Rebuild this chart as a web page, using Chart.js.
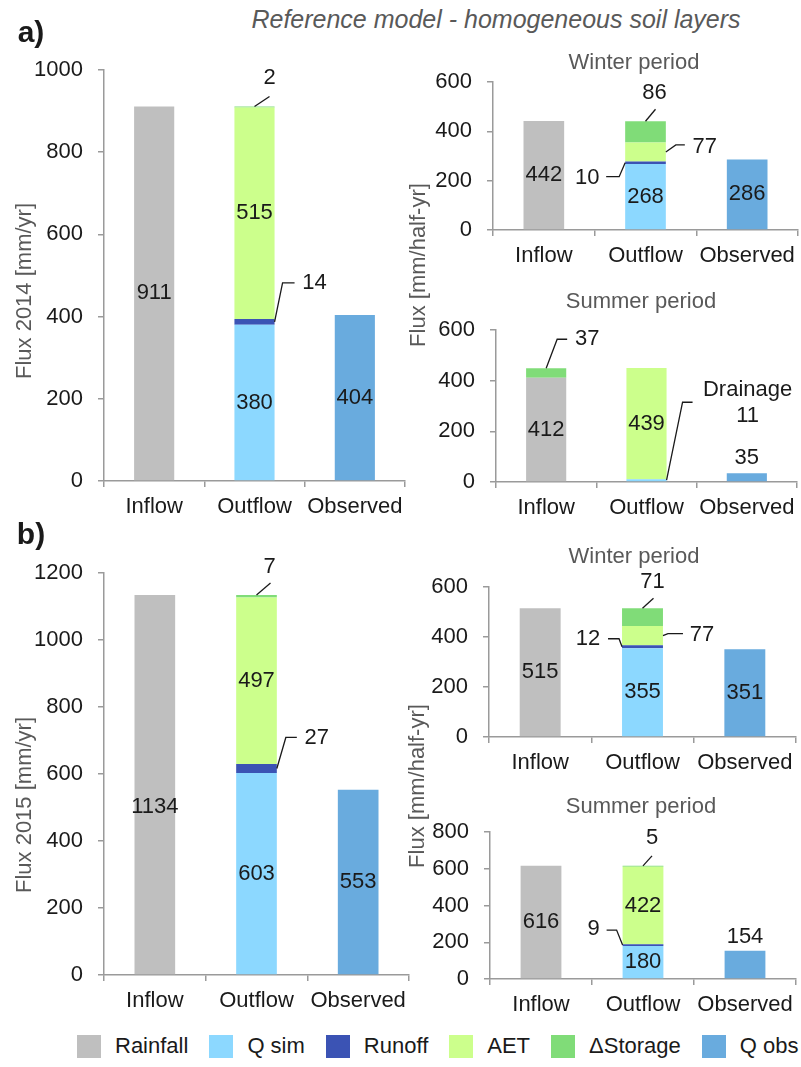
<!DOCTYPE html>
<html><head><meta charset="utf-8">
<script src="https://cdn.jsdelivr.net/npm/chart.js@4"></script>
<style>
html,body{margin:0;padding:0;background:#fff;}
#wrap{position:relative;width:801px;height:1067px;overflow:hidden;font-family:'Liberation Sans',Arial,sans-serif;}
canvas{position:absolute;}
.t{position:absolute;white-space:nowrap;line-height:1;transform:translate(-50%,-50%);}
.rot{transform:translate(-50%,-50%) rotate(-90deg);}
#legend{position:absolute;left:77px;top:1046px;transform:translateY(-50%);display:flex;align-items:center;font-size:22px;color:#1a1a1a;white-space:nowrap;width:760px;}
#legend .it{display:flex;align-items:center;margin-right:21px;flex-shrink:0;}
#legend .sw{width:24px;height:23px;margin-right:14px;flex-shrink:0;}
</style></head><body><div id="wrap"></div>
<script>
// ---------- data ----------
const categories = ['Inflow', 'Outflow', 'Observed'];
const seriesNames = ['Rainfall', 'Q sim', 'Runoff', 'AET', '\u0394Storage', 'Q obs'];

// a) 2014 annual
const y2014Rainfall = [911, null, null];
const y2014Qsim     = [null, 380, null];
const y2014Runoff   = [null, 14, null];
const y2014Aet      = [null, 515, null];
const y2014Storage  = [null, 2, null];
const y2014Qobs     = [null, null, 404];
// a) 2014 winter
const w2014Rainfall = [442, null, null];
const w2014Qsim     = [null, 268, null];
const w2014Runoff   = [null, 10, null];
const w2014Aet      = [null, 77, null];
const w2014Storage  = [null, 86, null];
const w2014Qobs     = [null, null, 286];
// a) 2014 summer
const s2014Rainfall = [412, null, null];
const s2014Qsim     = [null, 11, null];
const s2014Runoff   = [null, null, null];
const s2014Aet      = [null, 439, null];
const s2014Storage  = [37, null, null];
const s2014Qobs     = [null, null, 35];
// b) 2015 annual
const y2015Rainfall = [1134, null, null];
const y2015Qsim     = [null, 603, null];
const y2015Runoff   = [null, 27, null];
const y2015Aet      = [null, 497, null];
const y2015Storage  = [null, 7, null];
const y2015Qobs     = [null, null, 553];
// b) 2015 winter
const w2015Rainfall = [515, null, null];
const w2015Qsim     = [null, 355, null];
const w2015Runoff   = [null, 12, null];
const w2015Aet      = [null, 77, null];
const w2015Storage  = [null, 71, null];
const w2015Qobs     = [null, null, 351];
// b) 2015 summer
const s2015Rainfall = [616, null, null];
const s2015Qsim     = [null, 180, null];
const s2015Runoff   = [null, 9, null];
const s2015Aet      = [null, 422, null];
const s2015Storage  = [null, 5, null];
const s2015Qobs     = [null, null, 154];

// axis maxima / steps
const yMax2014 = 1000, yMax2015 = 1200, yMaxW2014 = 600, yMaxS2014 = 600, yMaxW2015 = 600, yMaxS2015 = 800;
const yStep = 200;

// ---------- style ----------
const seriesColors = ['#bfbfbf', '#8cd8ff', '#3b53b4', '#ccff8c', '#80dc78', '#69abde'];
const AX = '#9a9a9a';
const TXT = '#1a1a1a';
const FONT = "'Liberation Sans', Arial, sans-serif";
Chart.defaults.font.family = FONT;
Chart.defaults.font.size = 22;

const wrap = document.getElementById('wrap');

const labelPlugin = {
  id: 'segLabels',
  afterDatasetsDraw(chart, args, opts) {
    const ctx = chart.ctx;
    ctx.save();
    ctx.font = '22px ' + FONT;
    ctx.fillStyle = TXT; ctx.strokeStyle = TXT; ctx.lineWidth = 1.3;
    ctx.textAlign = 'center'; ctx.textBaseline = 'middle';
    for (const L of (opts.items || [])) {
      const el = chart.getDatasetMeta(L.s).data[L.c];
      const v = chart.data.datasets[L.s].data[L.c];
      if (!el || v == null) continue;
      const top = Math.min(el.y, el.base), bot = Math.max(el.y, el.base);
      const half = el.width / 2;
      const lines = (L.prefix ? [L.prefix] : []).concat([String(v)]);
      let tx, ty;
      if (L.mode === 'center') { tx = el.x; ty = (top + bot) / 2 + (L.dy || 0); }
      else if (L.mode === 'above') { tx = el.x; ty = top + L.dy; }
      else {
        let ax, ay;
        if (L.anchor === 'top') { ax = el.x; ay = top; }
        else if (L.anchor === 'right') { ax = el.x + half; ay = (top + bot) / 2; }
        else { ax = el.x - half; ay = (top + bot) / 2; }
        ctx.beginPath(); ctx.moveTo(ax, ay);
        for (const p of L.path) ctx.lineTo(ax + p[0], ay + p[1]);
        ctx.stroke();
        tx = ax + L.text[0]; ty = ay + L.text[1];
      }
      const lh = 26;
      lines.forEach((s, i) => ctx.fillText(s, tx, ty + (i - (lines.length - 1) / 2) * lh));
    }
    ctx.restore();
  }
};

function makePanel(p) {
  const PT = 30, PR = 10, XH = 40;
  const YW = p.yw;
  const c = document.createElement('canvas');
  const W = YW + (p.x1 - p.x0) + PR;
  const H = PT + (p.y0 - p.yTop) + XH;
  c.width = W; c.height = H;
  c.style.left = (p.x0 - YW) + 'px';
  c.style.top = (p.yTop - PT) + 'px';
  c.style.width = W + 'px'; c.style.height = H + 'px';
  wrap.appendChild(c);
  const datasets = p.series.map((d, i) => ({
    label: seriesNames[i], data: d, backgroundColor: seriesColors[i],
    borderWidth: 0, barPercentage: 0.4, categoryPercentage: 1.0
  }));
  new Chart(c, {
    type: 'bar',
    data: { labels: categories, datasets },
    plugins: [labelPlugin],
    options: {
      responsive: false, animation: false, devicePixelRatio: 1,
      layout: { padding: { top: PT, right: PR, left: 0, bottom: 0 } },
      plugins: { legend: { display: false }, tooltip: { enabled: false }, title: { display: false },
        segLabels: { items: p.labels } },
      scales: {
        x: {
          stacked: true,
          grid: { display: true, drawOnChartArea: false, drawTicks: true, tickLength: 6, color: AX, lineWidth: 1.5, offset: true },
          border: { display: true, color: AX, width: 1.5 },
          ticks: { color: TXT, font: { size: 22 }, padding: 7, maxRotation: 0, autoSkip: false },
          afterFit: s => { s.height = XH; }
        },
        y: {
          stacked: true, min: 0, max: p.max,
          grid: { display: true, drawOnChartArea: false, drawTicks: true, tickLength: 6, color: AX, lineWidth: 1.5 },
          border: { display: true, color: AX, width: 1.5 },
          ticks: { stepSize: yStep, color: TXT, font: { size: 22 }, padding: 15, callback: v => String(v) },
          afterFit: s => { s.width = YW; }
        }
      }
    }
  });
}

// panels
makePanel({ x0: 104, x1: 405, yTop: 70, y0: 481, yw: 104, max: yMax2014,
  series: [y2014Rainfall, y2014Qsim, y2014Runoff, y2014Aet, y2014Storage, y2014Qobs],
  labels: [
    { s: 0, c: 0, mode: 'center' }, { s: 1, c: 1, mode: 'center' }, { s: 3, c: 1, mode: 'center' }, { s: 5, c: 2, mode: 'center' },
    { s: 4, c: 1, mode: 'callout', anchor: 'top', path: [[15, -10]], text: [15, -29] },
    { s: 2, c: 1, mode: 'callout', anchor: 'right', path: [[8, -39], [20, -39]], text: [40, -39] }
  ] });

makePanel({ x0: 104, x1: 409, yTop: 573, y0: 975, yw: 104, max: yMax2015,
  series: [y2015Rainfall, y2015Qsim, y2015Runoff, y2015Aet, y2015Storage, y2015Qobs],
  labels: [
    { s: 0, c: 0, mode: 'center', dy: 22 }, { s: 1, c: 1, mode: 'center' }, { s: 3, c: 1, mode: 'center' }, { s: 5, c: 2, mode: 'center' },
    { s: 4, c: 1, mode: 'callout', anchor: 'top', path: [[14, -12]], text: [13, -28] },
    { s: 2, c: 1, mode: 'callout', anchor: 'right', path: [[9, -31], [20, -31]], text: [40, -31] }
  ] });

makePanel({ x0: 493, x1: 798, yTop: 82, y0: 230, yw: 80, max: yMaxW2014,
  series: [w2014Rainfall, w2014Qsim, w2014Runoff, w2014Aet, w2014Storage, w2014Qobs],
  labels: [
    { s: 0, c: 0, mode: 'center' }, { s: 1, c: 1, mode: 'center' }, { s: 5, c: 2, mode: 'center' },
    { s: 4, c: 1, mode: 'callout', anchor: 'top', path: [[10, -12]], text: [9, -28] },
    { s: 3, c: 1, mode: 'callout', anchor: 'right', path: [[10, -7], [19, -7]], text: [39, -5] },
    { s: 2, c: 1, mode: 'callout', anchor: 'left', path: [[-6, 14], [-19, 14]], text: [-38, 15] }
  ] });

makePanel({ x0: 496, x1: 797, yTop: 330, y0: 482, yw: 80, max: yMaxS2014,
  series: [s2014Rainfall, s2014Qsim, s2014Runoff, s2014Aet, s2014Storage, s2014Qobs],
  labels: [
    { s: 0, c: 0, mode: 'center' }, { s: 3, c: 1, mode: 'center' },
    { s: 4, c: 0, mode: 'callout', anchor: 'top', path: [[11, -29], [21, -29]], text: [41, -29] },
    { s: 1, c: 1, mode: 'callout', anchor: 'right', path: [[16, -78], [26, -78]], text: [81, -77], prefix: 'Drainage' },
    { s: 5, c: 2, mode: 'above', dy: -15 }
  ] });

makePanel({ x0: 489, x1: 796, yTop: 587, y0: 737, yw: 80, max: yMaxW2015,
  series: [w2015Rainfall, w2015Qsim, w2015Runoff, w2015Aet, w2015Storage, w2015Qobs],
  labels: [
    { s: 0, c: 0, mode: 'center' }, { s: 1, c: 1, mode: 'center' }, { s: 5, c: 2, mode: 'center' },
    { s: 4, c: 1, mode: 'callout', anchor: 'top', path: [[11, -10]], text: [10, -26] },
    { s: 3, c: 1, mode: 'callout', anchor: 'right', path: [[5, -2], [20, -2]], text: [39, -1] },
    { s: 2, c: 1, mode: 'callout', anchor: 'left', path: [[-3, -8], [-14, -8]], text: [-34, -8] }
  ] });

makePanel({ x0: 490, x1: 796, yTop: 832, y0: 979, yw: 80, max: yMaxS2015,
  series: [s2015Rainfall, s2015Qsim, s2015Runoff, s2015Aet, s2015Storage, s2015Qobs],
  labels: [
    { s: 0, c: 0, mode: 'center' }, { s: 3, c: 1, mode: 'center' }, { s: 1, c: 1, mode: 'center' },
    { s: 4, c: 1, mode: 'callout', anchor: 'top', path: [[9, -10]], text: [9, -28] },
    { s: 2, c: 1, mode: 'callout', anchor: 'left', path: [[-6, -15], [-16, -15]], text: [-29, -16] },
    { s: 5, c: 2, mode: 'above', dy: -14 }
  ] });

// ---------- texts ----------
function txt(s, x, y, css, cls) {
  const d = document.createElement('div');
  d.className = 't' + (cls ? ' ' + cls : '');
  d.textContent = s;
  d.style.left = x + 'px'; d.style.top = y + 'px';
  d.style.cssText += css;
  wrap.appendChild(d);
}
txt('Reference model - homogeneous soil layers', 496, 19, 'font-size:25px;font-style:italic;color:#595959;');
txt('a)', 31, 32, 'font-size:30px;font-weight:bold;color:#1a1a1a;');
txt('b)', 31, 534, 'font-size:30px;font-weight:bold;color:#1a1a1a;');
txt('Flux 2014 [mm/yr]', 24, 291, 'font-size:22px;color:#595959;', 'rot');
txt('Flux 2015 [mm/yr]', 24, 805, 'font-size:22px;color:#595959;', 'rot');
txt('Flux [mm/half-yr]', 418, 265, 'font-size:22px;color:#595959;', 'rot');
txt('Flux [mm/half-yr]', 417, 786, 'font-size:22px;color:#595959;', 'rot');
txt('Winter period', 634, 62, 'font-size:22px;color:#595959;');
txt('Summer period', 641, 301, 'font-size:22px;color:#595959;');
txt('Winter period', 634, 556, 'font-size:22px;color:#595959;');
txt('Summer period', 641, 806, 'font-size:22px;color:#595959;');

// legend
const lg = document.createElement('div'); lg.id = 'legend';
seriesNames.forEach((n, i) => {
  const it = document.createElement('div'); it.className = 'it';
  const sw = document.createElement('div'); sw.className = 'sw'; sw.style.background = seriesColors[i];
  const sp = document.createElement('span'); sp.textContent = n;
  it.appendChild(sw); it.appendChild(sp); lg.appendChild(it);
});
wrap.appendChild(lg);
</script>
</body></html>
